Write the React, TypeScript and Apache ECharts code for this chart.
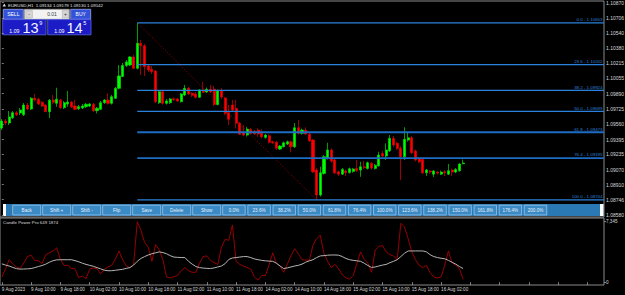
import { useEffect, useRef } from 'react';
import * as echarts from 'echarts';

const symbolTitle = 'EURUSD,H1';
const lastBarOHLC = [1.09134, 1.09179, 1.0913, 1.09142];
const sellQuote = ['1.09', '13', '9'];
const buyQuote = ['1.09', '14', '5'];
const lotSize = '0.01';

const timeLabels = [
  '9 Aug 2023', '9 Aug 10:00', '9 Aug 18:00', '10 Aug 02:00', '10 Aug 10:00', '10 Aug 18:00',
  '11 Aug 02:00', '11 Aug 10:00', '11 Aug 18:00', '14 Aug 02:00', '14 Aug 10:00', '14 Aug 18:00',
  '15 Aug 02:00', '15 Aug 10:00', '15 Aug 18:00', '16 Aug 02:00',
];

const priceTicks = [
  1.1087, 1.10706, 1.1054, 1.1038, 1.10215, 1.10055, 1.0989, 1.09725,
  1.0956, 1.09395, 1.09235, 1.0907, 1.0891, 1.08746, 1.0858,
];

const fibHigh = 1.10653;
const fibLow = 1.08744;
const fibStartBar = 37;
const fibEndBar = 86;
const fibLevels = [0, 23.6, 38.2, 50, 61.8, 76.4, 100];

// [open, close, low, high]
const ohlc: number[][] = [
  [1.09519, 1.09594, 1.09497, 1.09616], [1.09594, 1.09573, 1.09551, 1.09616], [1.09573, 1.09638, 1.09551, 1.09702],
  [1.0963, 1.09684, 1.09616, 1.09702], [1.09684, 1.09662, 1.09648, 1.09702], [1.09681, 1.09713, 1.09659, 1.09735],
  [1.09662, 1.09767, 1.09648, 1.09789], [1.09767, 1.09724, 1.09713, 1.09789], [1.09724, 1.09839, 1.09713, 1.09853],
  [1.09839, 1.09821, 1.09805, 1.09886], [1.09829, 1.09778, 1.09767, 1.09843], [1.09796, 1.09756, 1.09746, 1.0981],
  [1.09764, 1.09695, 1.09692, 1.09778], [1.09695, 1.09818, 1.09627, 1.09832], [1.09821, 1.09796, 1.09778, 1.09875],
  [1.09785, 1.09829, 1.09749, 1.09953], [1.09821, 1.09738, 1.09724, 1.09832], [1.09738, 1.09792, 1.09724, 1.0981],
  [1.09778, 1.09799, 1.09749, 1.09918], [1.09799, 1.09749, 1.09735, 1.0981], [1.09756, 1.09721, 1.09713, 1.09821],
  [1.09727, 1.09749, 1.09713, 1.09767], [1.09735, 1.09756, 1.09724, 1.09778], [1.09749, 1.09775, 1.09735, 1.09789],
  [1.09756, 1.09778, 1.09746, 1.09789], [1.09775, 1.09706, 1.09692, 1.09789], [1.09706, 1.09731, 1.09677, 1.09746],
  [1.09721, 1.09792, 1.09713, 1.0981], [1.09792, 1.09821, 1.09778, 1.09832], [1.09821, 1.09785, 1.09772, 1.09893],
  [1.09785, 1.09857, 1.09772, 1.09875], [1.09839, 1.09947, 1.09832, 1.09961], [1.09947, 1.1008, 1.09936, 1.10198],
  [1.10074, 1.10193, 1.10069, 1.1022], [1.10193, 1.10231, 1.10177, 1.10252], [1.10198, 1.10285, 1.10188, 1.10295],
  [1.10285, 1.10163, 1.10155, 1.10306], [1.10163, 1.10432, 1.1015, 1.10653], [1.10432, 1.10406, 1.1009, 1.10468],
  [1.10406, 1.1018, 1.1008, 1.10425], [1.10188, 1.10144, 1.10123, 1.10209], [1.10152, 1.10126, 1.10101, 1.10188],
  [1.10133, 1.09803, 1.09789, 1.10144], [1.09792, 1.0991, 1.09778, 1.09929], [1.0991, 1.09785, 1.09772, 1.09929],
  [1.09785, 1.0981, 1.09772, 1.09832], [1.09792, 1.09832, 1.09778, 1.09843], [1.09835, 1.09824, 1.0981, 1.09848],
  [1.09832, 1.0981, 1.09799, 1.09843], [1.09803, 1.09886, 1.09794, 1.09896], [1.09875, 1.09947, 1.09864, 1.09983],
  [1.09947, 1.09886, 1.09875, 1.09961], [1.09893, 1.09872, 1.09853, 1.09907], [1.09886, 1.0985, 1.09837, 1.09907],
  [1.0985, 1.09929, 1.09843, 1.09939], [1.09929, 1.09904, 1.09896, 1.10018], [1.09907, 1.09936, 1.09896, 1.09956],
  [1.09936, 1.09907, 1.09896, 1.09983], [1.09939, 1.09772, 1.09756, 1.09972], [1.09772, 1.09918, 1.09762, 1.09934],
  [1.09918, 1.09853, 1.09832, 1.0995], [1.09843, 1.09677, 1.09659, 1.09853], [1.09684, 1.09613, 1.09551, 1.09767],
  [1.09767, 1.09713, 1.09695, 1.09821], [1.09731, 1.0957, 1.09516, 1.09821], [1.0957, 1.09451, 1.09443, 1.09584],
  [1.09472, 1.09443, 1.09433, 1.09551], [1.09443, 1.09508, 1.09427, 1.0953], [1.09505, 1.09462, 1.09449, 1.09519],
  [1.09483, 1.09457, 1.09443, 1.09497], [1.09497, 1.09454, 1.09425, 1.09516], [1.09462, 1.09425, 1.09408, 1.09505],
  [1.09418, 1.09443, 1.09405, 1.09454], [1.09436, 1.09365, 1.09352, 1.09449], [1.09371, 1.0936, 1.09346, 1.09384],
  [1.09365, 1.093, 1.09282, 1.09379], [1.09292, 1.09325, 1.09282, 1.09336], [1.09317, 1.0936, 1.09309, 1.09373],
  [1.09346, 1.09371, 1.09336, 1.09384], [1.09371, 1.09317, 1.09257, 1.09384], [1.09317, 1.09522, 1.09303, 1.09573],
  [1.09522, 1.09462, 1.09449, 1.09605], [1.09462, 1.09497, 1.09449, 1.09514], [1.09497, 1.09454, 1.09443, 1.09527],
  [1.09451, 1.09382, 1.09368, 1.09465], [1.09389, 1.09047, 1.09033, 1.094], [1.09066, 1.08797, 1.08744, 1.09087],
  [1.08797, 1.09036, 1.08781, 1.09102], [1.0903, 1.09209, 1.09017, 1.09228], [1.09192, 1.09282, 1.09179, 1.0936],
  [1.09282, 1.09163, 1.09147, 1.09298], [1.09174, 1.09036, 1.09022, 1.0919], [1.09047, 1.09022, 1.09001, 1.0906],
  [1.09022, 1.09073, 1.09012, 1.09087], [1.09055, 1.0904, 1.09001, 1.09071], [1.0904, 1.0908, 1.09027, 1.09093],
  [1.09051, 1.09077, 1.09038, 1.09087], [1.09082, 1.0906, 1.09044, 1.09174], [1.09066, 1.09102, 1.08993, 1.09156],
  [1.09102, 1.09091, 1.09077, 1.09163], [1.09084, 1.09145, 1.09071, 1.09158], [1.09138, 1.09087, 1.09071, 1.09152],
  [1.09084, 1.09117, 1.09071, 1.09131], [1.09112, 1.09228, 1.09102, 1.09263], [1.09244, 1.09217, 1.09201, 1.09271],
  [1.09217, 1.09282, 1.09174, 1.09354], [1.09274, 1.09408, 1.0926, 1.09443], [1.09408, 1.09336, 1.09317, 1.09433],
  [1.09354, 1.093, 1.09282, 1.09373], [1.093, 1.09209, 1.08958, 1.09325], [1.09209, 1.09397, 1.09174, 1.09527],
  [1.09389, 1.09414, 1.09373, 1.09479], [1.09414, 1.09252, 1.09238, 1.09433], [1.09271, 1.09174, 1.09158, 1.09287],
  [1.09192, 1.09156, 1.09141, 1.09206], [1.09181, 1.09036, 1.09022, 1.09195], [1.09036, 1.09066, 1.09001, 1.09077],
  [1.09055, 1.09044, 1.09022, 1.09066], [1.09022, 1.09055, 1.0899, 1.09066], [1.09044, 1.09033, 1.09017, 1.09055],
  [1.09022, 1.09044, 1.09012, 1.0906], [1.09047, 1.09036, 1.09001, 1.09066], [1.09022, 1.09058, 1.09012, 1.09131],
  [1.09066, 1.09044, 1.09001, 1.09082], [1.09044, 1.09073, 1.09033, 1.09087], [1.09058, 1.09131, 1.09049, 1.09141],
  [lastBarOHLC[0], lastBarOHLC[3], lastBarOHLC[2], lastBarOHLC[1]],
];

const indicatorTitle = 'Candle Power Pro 649 1874';
const powerTicks = [0, 7345];
const powerValues = [
  619, 1616, 2727, 2189, 1845, 1650, 2338, 3106, 3278, 2613, 2613, 2269, 3335, 3564, 3793, 4171,
  2762, 2040, 2040, 1650, 1616, 550, 733, 435, 1581, 1730, 1616, 1008, 1581, 1845, 2040, 2762,
  3793, 2727, 1960, 1765, 2154, 7345, 6300, 4825, 4252, 2533, 4561, 3942, 2727, 619, 504, 642,
  814, 1387, 1765, 1387, 1192, 1192, 2303, 3106, 3186, 2647, 2361, 2154, 4252, 5203, 5088, 6950,
  2533, 2154, 1960, 1788, 1581, 619, 241, 814, 814, 2074, 3564, 2303, 1960, 1192, 2189, 3220,
  4057, 3449, 2727, 2682, 2647, 4481, 5283, 5707, 3484, 2533, 1765, 2154, 1616, 894, 527, 355,
  814, 2303, 3679, 2762, 2303, 1192, 3908, 4332, 4446, 3679, 3335, 3186, 2727, 7150, 6700, 5283,
  3679, 2727, 2074, 1765, 2040, 1157, 619, 504, 619, 2074, 3793, 2338, 2074, 1650, 355,
];
const powerSignal = [
  2223, 2074, 1960, 1788, 1639, 1581, 1593, 1616, 1650, 1765, 1902, 2017, 2189, 2418, 2613, 2705,
  2727, 2727, 2727, 2727, 2613, 2475, 2303, 2154, 2040, 1925, 1765, 1616, 1444, 1387, 1387, 1444,
  1501, 1559, 1673, 1765, 2074, 2533, 2876, 3106, 3300, 3449, 3564, 3679, 3598, 3449, 3220, 3048,
  3014, 2991, 2991, 2533, 2189, 1902, 1765, 1708, 1673, 1650, 1730, 1845, 1960, 2246, 2762, 2934,
  2991, 3048, 3106, 3106, 2991, 2819, 2727, 2647, 2590, 2556, 2533, 2303, 1960, 1650, 1730, 1845,
  1960, 2040, 2189, 2418, 2590, 2727, 2991, 3186, 3220, 3278, 3300, 3300, 3278, 3106, 2876, 2727,
  2647, 2590, 2533, 2303, 2017, 1788, 1845, 1960, 2074, 2154, 2361, 2533, 2727, 3106, 3507, 3793,
  3793, 3793, 3793, 3793, 3679, 3335, 3106, 2991, 2899, 2842, 2647, 2418, 2189, 1902, 1650,
];

const toolButtons = ['Back', 'Shift +', 'Shift -', 'Flip', 'Save', 'Delete', 'Show'];
const fibButtons = ['0.0%', '23.6%', '38.2%', '50.0%', '61.8%', '76.4%', '100.0%', '123.6%', '138.2%', '150.0%', '161.8%', '176.4%', '200.0%'];

const FONT = 'Liberation Sans';
const SLOTS = 165;

function buildOption() {
  const cats = Array.from({ length: SLOTS }, (_, i) => String(i));
  const fibRange = fibHigh - fibLow;
  const fibSeries = fibLevels.map((lv) => {
    const price = fibHigh - (fibRange * lv) / 100;
    const thick = lv === 61.8 || lv === 76.4;
    return {
      type: 'line',
      xAxisIndex: 1,
      yAxisIndex: 0,
      silent: true,
      z: 3,
      symbol: 'circle',
      symbolSize: 0.01,
      showSymbol: true,
      itemStyle: { color: 'rgba(0,0,0,0)' },
      lineStyle: { color: thick ? '#1e6cc4' : '#2a82dc', width: thick ? 1.8 : 1.3, type: 'solid' },
      data: [
        [fibStartBar, price],
        {
          value: [SLOTS - 0.5, price],
          label: {
            show: true,
            position: 'left',
            offset: [0, -3.2],
            distance: 1.5,
            formatter: `${lv.toFixed(1)} - ${price.toFixed(5)}`,
            color: '#2f80d8',
            fontSize: 4.4,
            fontFamily: FONT,
          },
        },
      ],
    };
  });

  const txt = (x: number, y: number, text: string, size: number, fill: string, align = 'left', weight = 'normal') => ({
    type: 'text',
    x,
    y,
    silent: true,
    style: { text, fill, fontSize: size, fontFamily: FONT, align, verticalAlign: 'middle', fontWeight: weight },
  });
  const rect = (x: number, y: number, w: number, h: number, fill: string, stroke?: string, lw = 0.8) => ({
    type: 'rect',
    silent: true,
    shape: { x, y, width: w, height: h },
    style: { fill, stroke: stroke || 'none', lineWidth: stroke ? lw : 0 },
  });

  const graphics: any[] = [];
  graphics.push({ type: 'polygon', silent: true, shape: { points: [[2.5, 6.5], [6, 6.5], [4.25, 3.5]] }, style: { fill: '#d8d8d8' } });
  graphics.push(txt(8, 5, `${symbolTitle}  ${lastBarOHLC.map((v) => v.toFixed(5)).join(' ')}`, 4.4, '#e0e0e0'));
  graphics.push(rect(3.3, 9.3, 20, 10, '#3452d8', '#9aa8f0'));
  graphics.push(txt(13.3, 14.4, 'SELL', 5, '#ffffff', 'center'));
  graphics.push(rect(24.3, 9.3, 45, 10, '#f2f2f2', '#9a9a9a'));
  graphics.push(rect(25.8, 10.6, 6.6, 7.4, '#d6d6d6', '#a8a8a8', 0.5));
  graphics.push(txt(29.1, 14.2, '-', 5, '#303030', 'center'));
  graphics.push(rect(62.3, 10.6, 6.4, 7.4, '#d6d6d6', '#a8a8a8', 0.5));
  graphics.push(txt(65.5, 14.3, '+', 5, '#303030', 'center'));
  graphics.push(txt(52, 14.4, lotSize, 5, '#404040', 'center'));
  graphics.push(rect(70.7, 9.3, 20, 10, '#3452d8', '#9aa8f0'));
  graphics.push(txt(80.7, 14.4, 'BUY', 5, '#ffffff', 'center'));
  graphics.push(rect(2.7, 19.6, 43.3, 15.2, '#1c1cc6', '#5c66e6'));
  graphics.push(rect(47.7, 19.6, 43.3, 15.2, '#1c1cc6', '#5c66e6'));
  graphics.push(txt(9.3, 30.5, sellQuote[0], 5.2, '#ffffff'));
  graphics.push(txt(22.5, 27.8, sellQuote[1], 14.5, '#f4f4ff', 'left', '300'));
  graphics.push(txt(39.3, 23.2, sellQuote[2], 5.5, '#ffffff'));
  graphics.push(txt(54.3, 30.5, buyQuote[0], 5.2, '#ffffff'));
  graphics.push(txt(66.5, 27.8, buyQuote[1], 14.5, '#f4f4ff', 'left', '300'));
  graphics.push(txt(83.3, 23.2, buyQuote[2], 5.5, '#ffffff'));
  graphics.push(rect(3, 204, 600.5, 12, '#2a79b4'));
  graphics.push(rect(3, 204, 3, 12, '#ffffff'));
  graphics.push(rect(600, 204, 3.5, 12, '#ffffff'));
  toolButtons.forEach((b, k) => {
    const x = 12.7 + 30 * k;
    graphics.push(rect(x, 205.2, 28, 9.8, '#3a8ac6', '#a6cdee', 0.7));
    graphics.push(txt(x + 14, 210.2, b, 4.6, '#e6eef6', 'center'));
  });
  fibButtons.forEach((b, k) => {
    const x = 222.7 + 25.13 * k;
    graphics.push(rect(x, 205.2, 22.5, 9.8, '#3a8ac6', '#a6cdee', 0.7));
    graphics.push(txt(x + 11.25, 210.2, b, 4.6, '#e6eef6', 'center'));
  });
  graphics.push(txt(3, 222.3, indicatorTitle, 4.4, '#d8d8d8'));

  return {
    animation: false,
    backgroundColor: '#000000',
    graphic: { elements: graphics },
    grid: [
      { left: 0, top: 1, width: 604, height: 216, show: true, borderColor: '#8a8a8a', borderWidth: 1, backgroundColor: 'transparent', containLabel: false, outerBoundsMode: 'none' },
      { left: 0, top: 218, width: 604, height: 67, show: true, borderColor: '#8a8a8a', borderWidth: 1, backgroundColor: 'transparent', containLabel: false, outerBoundsMode: 'none' },
    ],
    xAxis: [
      { type: 'category', gridIndex: 0, data: cats, boundaryGap: true, show: false },
      { type: 'value', gridIndex: 0, min: -0.5, max: SLOTS - 0.5, show: false },
      {
        type: 'category',
        gridIndex: 1,
        data: cats,
        boundaryGap: true,
        axisLine: { show: false },
        axisTick: { show: true, interval: 7, alignWithLabel: true, length: 3, lineStyle: { color: '#9a9a9a', width: 0.8 } },
        axisLabel: {
          show: true,
          interval: 7,
          align: 'left',
          margin: 2,
          fontSize: 4.6,
          fontFamily: FONT,
          color: '#d8d8d8',
          formatter: (_v: string, idx: number) => (idx % 8 === 0 ? timeLabels[idx / 8] ?? '' : ''),
        },
        splitLine: { show: false },
      },
    ],
    yAxis: [
      {
        type: 'value',
        gridIndex: 0,
        position: 'right',
        min: 1.0856,
        max: 1.10888,
        scale: true,
        splitLine: { show: false },
        axisLine: { show: false },
        axisTick: { show: true, customValues: priceTicks, length: 2, lineStyle: { color: '#9a9a9a', width: 0.8 } },
        axisLabel: {
          show: true,
          customValues: priceTicks,
          margin: 2,
          fontSize: 5,
          fontFamily: FONT,
          color: '#d8d8d8',
          formatter: (v: number) => v.toFixed(5),
        },
      },
      {
        type: 'value',
        gridIndex: 1,
        position: 'right',
        min: -350,
        max: 7800,
        splitLine: { show: false },
        axisLine: { show: false },
        axisTick: { show: true, customValues: powerTicks, length: 2, lineStyle: { color: '#9a9a9a', width: 0.8 } },
        axisLabel: { show: true, customValues: powerTicks, margin: 2, fontSize: 4.6, fontFamily: FONT, color: '#d8d8d8' },
      },
    ],
    series: [
      {
        type: 'line',
        xAxisIndex: 1,
        yAxisIndex: 0,
        data: [[fibStartBar, fibHigh], [fibEndBar, fibLow]],
        symbol: 'none',
        silent: true,
        z: 1,
        lineStyle: { color: '#a00000', width: 1, type: [1, 2] },
      },
      ...fibSeries,
      {
        type: 'candlestick',
        xAxisIndex: 0,
        yAxisIndex: 0,
        data: ohlc,
        barWidth: 2.6,
        z: 2,
        itemStyle: { color: '#00ff00', color0: '#ff0000', borderColor: '#00e000', borderColor0: '#e00000', borderWidth: 0.7 },
      },
      {
        type: 'line',
        xAxisIndex: 2,
        yAxisIndex: 1,
        data: powerValues,
        symbol: 'none',
        silent: true,
        lineStyle: { color: '#a80000', width: 0.9 },
      },
      {
        type: 'line',
        xAxisIndex: 2,
        yAxisIndex: 1,
        data: powerSignal,
        symbol: 'none',
        silent: true,
        lineStyle: { color: '#b4b4b4', width: 1 },
      },
    ],
  };
}

export default function App() {
  const ref = useRef<HTMLDivElement>(null);
  useEffect(() => {
    if (!ref.current) return;
    const chart = echarts.init(ref.current, null, { renderer: 'svg' });
    chart.setOption(buildOption() as any);
    return () => chart.dispose();
  }, []);
  return (
    <div
      ref={ref}
      style={{ position: 'fixed', left: 0, top: 0, width: 625, height: 295, background: '#000' }}
    />
  );
}
